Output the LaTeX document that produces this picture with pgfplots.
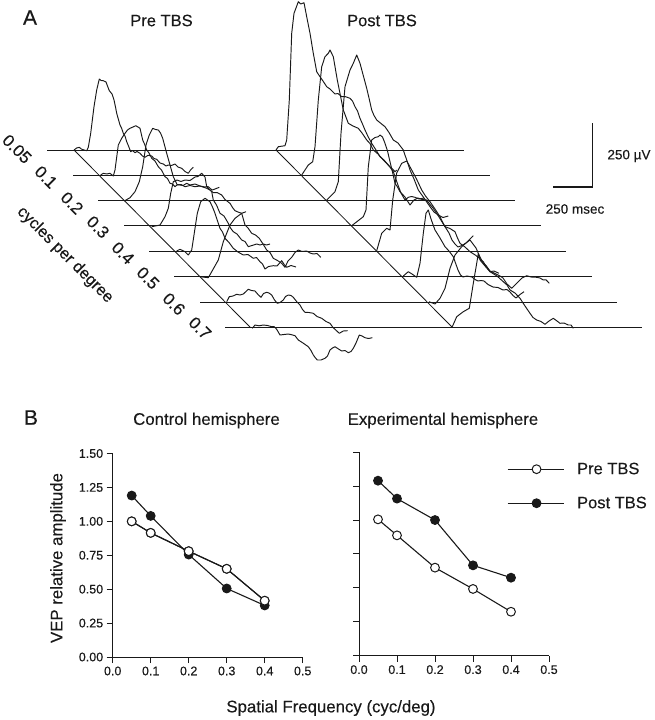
\documentclass[border=0pt]{standalone}
\usepackage{pgfplots}
\pgfplotsset{compat=1.18}
\usepackage{fontspec}
\setmainfont{Liberation Sans}[FakeBold=0.25]
\definecolor{ink}{gray}{0.1}
\pgfplotsset{
  panelB/.style={
    scale only axis, axis lines=left, axis line style={-,ink,line width=0.9pt},
    width=190pt, height=203.5pt,
    xmin=0,xmax=0.5,ymin=0,ymax=1.5,
    xtick={0,0.1,0.2,0.3,0.4,0.5},
    ytick={0,0.25,0.5,0.75,1,1.25,1.5},
    tick align=outside, major tick length=6pt,
    tick style={ink,line width=0.9pt},
    x tick label style={/pgf/number format/.cd,fixed,fixed zerofill,precision=1,assume math mode=true},
    y tick label style={/pgf/number format/.cd,fixed,fixed zerofill,precision=2,assume math mode=true},
    ticklabel style={font=\fontsize{12.5}{12.5}\selectfont,text=ink},
    clip=false
  },
  pre/.style={ink,line width=1.1pt,mark=*,mark size=4.4pt,mark options={fill=white,draw=ink,line width=1pt}},
  post/.style={ink,line width=1.1pt,mark=*,mark size=4.4pt,mark options={fill=ink,draw=ink,line width=1pt}}
}
\tikzset{
  base/.style={ink,line width=0.85pt,no marks},
  tr/.style={ink,line width=0.95pt,no marks,line join=round},
  lab/.style={font=\fontsize{#1}{#1}\selectfont,text=ink}
}
\begin{document}
\begin{tikzpicture}[x=1pt,y=1pt]
\useasboundingbox (0,0) rectangle (655,720);
\begin{axis}[at={(0,0)},anchor=south west,scale only axis,width=655pt,height=720pt,
  xmin=0,xmax=655,ymin=0,ymax=720,y dir=reverse,hide axis,clip=false]
% baselines
\addplot[base] coordinates {(47,150)(464,150)};
\addplot[base] coordinates {(73,175)(490,175)};
\addplot[base] coordinates {(98,200.5)(515,200.5)};
\addplot[base] coordinates {(124,225.5)(541,225.5)};
\addplot[base] coordinates {(149,251)(566,251)};
\addplot[base] coordinates {(174,276)(592,276)};
\addplot[base] coordinates {(200,302)(617,302)};
\addplot[base] coordinates {(225,327)(642,327)};
% diagonals
\addplot[base] coordinates {(74,150)(250,327)};
\addplot[base] coordinates {(276,150)(452,327)};
% Pre TBS
\addplot[tr] coordinates {(74,150)(76.7,148)(79.3,147.3)(81.3,149)(84,150)(86.7,150.7)(88.3,147.3)(90.7,133.3)(94,106.7)(96.7,90)(99.3,79)(101,80.5)(103.3,80.7)(106,82)(107.5,86)(109.3,90.7)(112,94)(114,100)(115.5,107)(116.7,113.3)(118.3,119)(120,125)(121.5,128)(123.3,133.3)(125,136)(126.7,141.7)(128.5,146)(130.7,151.7)(132.5,150.5)(135,152.7)(137,151.5)(140,153.3)(142.5,156)(145,157.3)(148,155.3)(151.7,156)(154,158.5)(156.7,159.3)(160,163)(163.3,164)(166,166)(168.3,165)(171.5,165.5)(175,164)(178,167)(181.7,168.3)(185,171.5)(188.3,173.3)(190.5,170)(193.3,167.3)};
\addplot[tr] coordinates {(100.7,175)(103.3,173.3)(106.7,174)(110,173.3)(113.3,176)(115,170)(118.3,145)(121.7,138.3)(125,133.3)(127.5,130)(130,128.3)(133,127)(135.7,125.7)(138,127)(140,128.3)(142.7,140)(144.5,144)(146.7,150)(149,153)(151.7,158.3)(155,161)(158.3,166.7)(161.5,170)(165,176.7)(167.5,178.5)(170,183.3)(172.5,184)(175,186.7)(177.5,184.5)(180,185)(183,185.5)(186.7,183.3)(190,185)(195,184)(200,186)(205,187)(208,186.5)(212,190)(215,189)(219.3,187.3)};
\addplot[tr] coordinates {(124.3,201)(130,197.7)(135,191.7)(139.3,181.7)(142.7,166.7)(146,145)(149.3,135)(152.7,128.3)(155.5,129.5)(158.3,130)(160.5,133)(162.7,138.3)(166.7,153.3)(170,165)(173.3,176.7)(177.3,185)(181,184.5)(185,186.7)(190,185.5)(195,186.7)(200,186)(206.7,188.3)(210,190)(213.3,192.7)(217,192.5)(221.7,195)(225,199.5)(230,203.3)(232.5,207.5)(235,210.7)(238,212)(241.7,213.3)(246,211.7)};
\addplot[tr] coordinates {(151.7,226.7)(160,225)(165,216.7)(168.3,208.3)(170.7,193.3)(173.3,181.7)(177,180)(181,181.5)(185,180)(190,180.5)(195,177)(198,176.5)(201.7,173.3)(205,177)(206.7,186.7)(211.7,191.7)(213.3,200)(216.5,205)(220,213.3)(224,216)(228.3,223.3)(230.5,228)(233.3,231.7)(237,234)(241.7,240)(245,241.5)(248.3,246.7)(252,245.5)(256.7,244)(260,245)(263.3,244)(266.5,245)(270,244)};
\addplot[tr] coordinates {(176.7,251)(180,249.3)(185,251.7)(188.3,255)(191.7,250)(194,235)(197.3,213.3)(200.7,201.7)(205,198.3)(207.5,200)(210,201.7)(212.5,207)(215,213.3)(217.5,221)(220,228.3)(222.5,232)(225,238.3)(229,242.5)(233.3,248.3)(238,252)(243.3,255)(248,254.5)(253.3,258.3)(256.5,257.5)(260,261.7)(262.5,264)(265,269)(268.5,266.5)(273.3,265.7)(277,266)(281.7,260.7)(284.5,265)(286.7,267.3)(291,265.5)(296,267)};
\addplot[tr] coordinates {(200,276.7)(208.3,277.7)(211.7,271.7)(218.3,260)(223.3,241.7)(230,225)(235,218.3)(241.7,213.3)(245,225)(248,228)(251.7,233.3)(255.5,235)(259.3,238.3)(263,244)(266.7,250)(270,252.5)(273.3,258.3)(277.5,260.5)(281.7,263.3)(285,267.3)(288,261)(291.7,257.3)(295,252.5)(298.3,250)(302,251.5)(306.7,251)(310,253)(313.3,254)(317,253.5)(320.7,257.3)};
\addplot[tr] coordinates {(226.7,301.7)(229.3,296.7)(233,296)(236.7,294.3)(240,295)(243.3,294)(248.3,289.3)(251.5,290.5)(255,291)(258,294.5)(261,297.3)(263.5,293.5)(266.7,292.3)(269,293)(271.7,295)(274.5,300)(277.3,303.3)(280,302.5)(283.3,300)(285.5,296.5)(288.3,295)(291,295.5)(293.3,297.3)(297,302)(300,305)(302.5,309.5)(305,312.3)(309,312.5)(313.3,313.3)(317,316.5)(321.7,318.3)(326,321.5)(330,323.3)(333,327.5)(335,329.3)(339.3,333.3)(343.3,331)(347.7,330.7)};
\addplot[tr] coordinates {(252.3,328.3)(255,325)(259,325.8)(263.3,325)(267.5,325.5)(271.7,326.7)(274,326.5)(276.7,329.3)(280,335)(284,334.5)(288.3,334)(291.5,334.7)(295,335.7)(298.3,340)(303,343)(308.3,346.7)(311,350.5)(313.3,355)(315.5,358)(317.3,360)(321,360)(325,358.3)(327.5,356)(330,350)(332.5,348)(335,346.7)(338.5,349)(341.7,351)(345,350.5)(348.3,352.7)(351,351.5)(353.3,348.3)(356,343)(359.3,335)(362,336)(365,337.7)(368.5,338.5)(372.3,337.7)};
% Post TBS
\addplot[tr] coordinates {(276,150)(278.3,146.7)(285,145.7)(286.7,140)(289.3,100)(291.7,33.3)(294,13.3)(296,8)(298.3,1.7)(300.7,4)(304,2.7)(306.7,16.7)(310,33.3)(313.3,53.3)(316.7,71.7)(318.5,74.5)(320,76.7)(323,81)(326.7,86.7)(330,89)(335,94)(338,93.5)(341.7,96.7)(345,96.5)(350,98.3)(352.5,101)(355,106.7)(357.5,111)(360,118.3)(362.5,124)(365,130)(368,136.5)(371.7,143.3)(376,150)(380,156.7)(384,160)(388,165)(392,168.5)(395,171.7)(396.7,170)};
\addplot[tr] coordinates {(301.7,175)(308.3,165)(312.7,161.7)(315,146.7)(318.3,100)(321.7,66.7)(325,56.7)(328.3,53.3)(330,50)(333.3,56.7)(337.3,80)(343.3,110)(348.3,123.3)(353,126)(358.3,128.3)(362,133)(366.7,140)(370,143.5)(373.3,150)(378,154)(383.3,160)(388,164.5)(393.3,171.7)(395.5,178)(398.3,186)(401,193)(405,200)(408.3,197.3)(411.5,196.5)(415,197.3)(419,199)(424,198)};
\addplot[tr] coordinates {(326.7,200)(335,191.7)(338.3,181.7)(341,133.3)(345,86.7)(350,70)(353.3,63.3)(356.7,55)(360,63.3)(366.7,88.3)(369,98)(371.7,110)(374,115.5)(376.7,120)(381,123.5)(385,126.7)(389,132.5)(393.3,140)(398,143)(403.3,150)(406,158)(410,170)(414,179)(418.3,190)(424,198)(430,206.7)(434,212)(438.3,215)(443,217.5)(448.3,216)};
\addplot[tr] coordinates {(351.7,225.7)(363.3,216.7)(366,210)(368.3,166.7)(371.7,140)(375,137.5)(378.3,136.7)(380,135)(382.5,137)(385,143.3)(387.5,151)(390,161.7)(392.5,172)(395,183.3)(397.5,187)(400,191.7)(405,197)(410,205)(414,200)(418,198)(422,199.5)(426.7,200)(430,204.5)(433,208)(439,217)(445,226.7)(449,233)(452,240)(455,244)(458,247)(462,245.5)(466,243)(470,239)(473.3,235.7)};
\addplot[tr] coordinates {(376.7,250.7)(381.7,233.3)(386.7,228.3)(390,230)(392.7,200)(396.7,173)(401.7,163.3)(406.7,161)(409,165)(411.7,170)(416.5,179)(421.7,190)(425.5,196)(430,201.7)(435,209)(440,216.7)(442.5,222)(445,226.7)(450,228.5)(455,231.7)(457.5,238)(460,243.3)(465,247)(470,251.7)(476,255.5)(483.3,261.7)(486.5,267)(490,271.7)(494,271)(499,273.3)};
\addplot[tr] coordinates {(403.3,276)(408.3,271.7)(412,274)(416.7,277.3)(420,263.3)(423.3,233.3)(426,213.3)(428.3,210)(431,219)(435,230)(440,238)(445,246.7)(449,251)(453.3,256.7)(455.5,263)(458,270)(460.5,275)(463,277)(467,276)(472,277)(475,279.5)(478,281)(481,280.5)(484,281)(488,284.5)(493,287)(498,287.5)(503,290)(507,289.5)(510,292)(513,295.5)(516,298)(520,294.5)(524,291.7)};
\addplot[tr] coordinates {(429,301.7)(435,304)(440,298.3)(445,288.3)(450,268.3)(455,255)(461.7,246.7)(466,243)(470,240)(473,244)(476,248)(479.5,256)(483,263)(486,265.5)(490,271)(495,273.5)(500,276)(503,278)(507,284)(511.7,288.3)(515,285)(518.3,281.7)(522,278)(526.7,275.7)(531,277)(536.7,277.3)(540,278)(543.3,280)(546,279.8)(549.3,283.3)};
\addplot[tr] coordinates {(452.3,326.7)(456.7,316.7)(463.3,311.7)(469.3,308.3)(473.3,283.3)(476.7,263.3)(478.3,253.3)(480,260)(485,266)(490,271.7)(497,276)(503.3,281.7)(507,285)(510,290)(515,293)(520,298.3)(525,306)(530,313.3)(533,317.5)(536.7,320)(541,321.5)(545,324.3)(549,321)(553.3,318.3)(557,321)(560,323.3)(564,323)(568.3,325)(571,325)(573.3,328.3)};
% scale bar
\addplot[ink,line width=1.3pt,no marks] coordinates {(553,187)(592.7,187)(592.7,123)};
% text
\node[lab=21] at (axis cs:30,17.5) {A};
\node[lab=21] at (axis cs:31,417.5) {B};
\node[lab=16.5] at (axis cs:161.5,20.5) {Pre TBS};
\node[lab=16.5] at (axis cs:382,20.5) {Post TBS};
\node[lab=13.5] at (axis cs:629,156) {250 µV};
\node[lab=13.5] at (axis cs:575,209) {250 msec};
\node[lab=17,rotate=-45] at (axis cs:17,149) {0.05};
\node[lab=17,rotate=-45] at (axis cs:46,177) {0.1};
\node[lab=17,rotate=-45] at (axis cs:72,203) {0.2};
\node[lab=17,rotate=-45] at (axis cs:98,227) {0.3};
\node[lab=17,rotate=-45] at (axis cs:123,253) {0.4};
\node[lab=17,rotate=-45] at (axis cs:148,278) {0.5};
\node[lab=17,rotate=-45] at (axis cs:174,304) {0.6};
\node[lab=17,rotate=-45] at (axis cs:200,328) {0.7};
\node[lab=16.3,rotate=-45] at (axis cs:65,255) {cycles per degree};
\node[lab=16.8] at (axis cs:206.5,420.5) {Control hemisphere};
\node[lab=16.8] at (axis cs:443,420.5) {Experimental hemisphere};
\node[lab=16.8] at (axis cs:331,708) {Spatial Frequency (cyc/deg)};
\node[lab=16.8,rotate=90] at (axis cs:58,558) {VEP relative amplitude};
\end{axis}
\begin{axis}[panelB,at={(112.7pt,63pt)},anchor=origin]
\addplot[pre] coordinates {(0.05,1.0)(0.1,0.915)(0.2,0.78)(0.3,0.65)(0.4,0.415)};
\addplot[post] coordinates {(0.05,1.19)(0.1,1.04)(0.2,0.755)(0.3,0.505)(0.4,0.38)};
\addplot[pre] coordinates {(0.05,1.0)(0.1,0.915)(0.2,0.78)(0.3,0.65)(0.4,0.415)};
\end{axis}
\begin{axis}[panelB,at={(359pt,64.3pt)},anchor=origin,yticklabels={},
  legend style={at={(148pt,195pt)},anchor=north west,draw=none,fill=none,inner sep=0pt,outer sep=0pt,
    font=\fontsize{16.5}{16.5}\selectfont,text=ink,row sep=17pt},
  legend cell align=left,
  legend image code/.code={\draw[#1,mark repeat=2,mark phase=2] plot coordinates {(0pt,0pt)(29pt,0pt)(56pt,0pt)};}]
\addplot[pre] coordinates {(0.05,1.005)(0.1,0.887)(0.2,0.649)(0.3,0.492)(0.4,0.324)};
\addplot[post] coordinates {(0.05,1.29)(0.1,1.158)(0.2,1.0)(0.3,0.666)(0.4,0.575)};
\legend{\hspace*{11pt}Pre TBS,\hspace*{11pt}Post TBS}
\end{axis}
\end{tikzpicture}
\end{document}
